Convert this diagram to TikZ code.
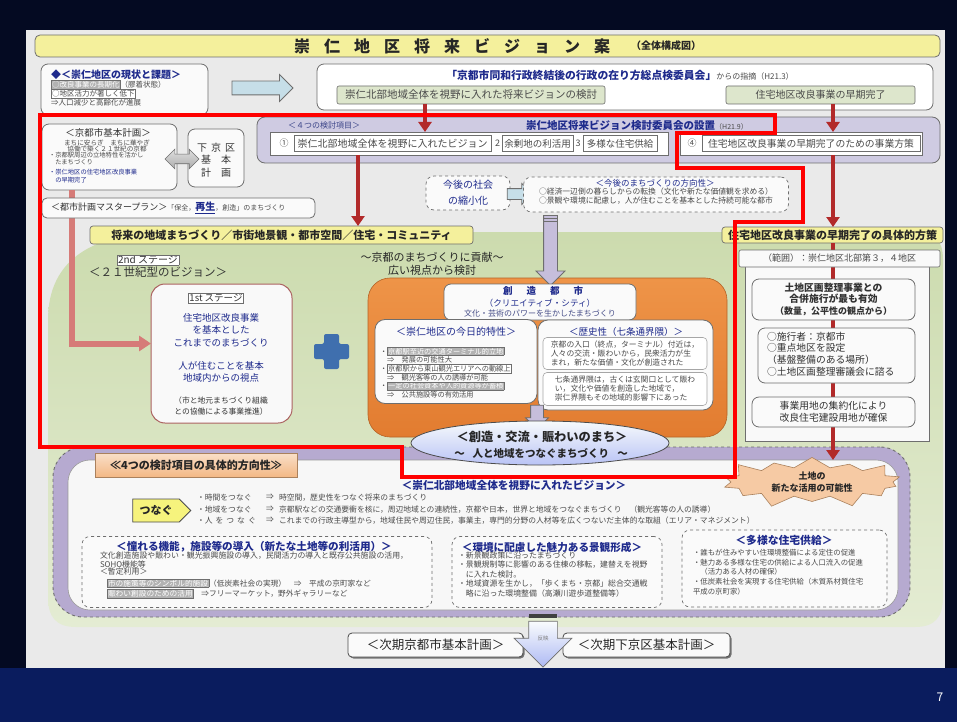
\documentclass[tikz,border=0pt]{standalone}
\usepackage{fontspec}
\setmainfont{Noto Sans CJK JP}
\usetikzlibrary{arrows.meta,shapes.arrows,shapes.symbols,shapes.geometric,shadows}
\newcommand\jf[2]{\fontsize{#1pt}{#2pt}\selectfont}
\definecolor{bgnavy}{HTML}{040A22}
\definecolor{botnavy}{HTML}{0A1C5E}
\definecolor{panel}{HTML}{EAEAEA}
\definecolor{ttlyel}{HTML}{F4F09C}
\definecolor{jblue}{HTML}{1E2A8C}
\definecolor{jgray}{HTML}{4A4A4A}
\definecolor{bordg}{HTML}{6E6E6E}
\definecolor{arred}{HTML}{B22A2A}
\definecolor{pinkar}{HTML}{D67B78}
\definecolor{lav}{HTML}{CFCBE2}
\definecolor{lavar}{HTML}{C6BEDB}
\definecolor{lavdk}{HTML}{B6AAD0}
\definecolor{greenA}{HTML}{CCDBAE}
\definecolor{greenB}{HTML}{E4ECD3}
\definecolor{oraA}{HTML}{EE9448}
\definecolor{oraB}{HTML}{E27C30}
\definecolor{paleg}{HTML}{DDE6CC}
\definecolor{lblue}{HTML}{C6DEE8}
\definecolor{peach}{HTML}{F3B885}
\definecolor{plusb}{HTML}{3F6FAE}
\newcommand\hlbx[1]{{\setlength\fboxsep{0.6pt}\fcolorbox{bordg}{gray!60}{\color{white}#1}}}
\newcommand\frbx[1]{{\setlength\fboxsep{0.6pt}\fcolorbox{bordg}{white}{#1}}}
\tikzset{
  rbox/.style={draw=bordg, line width=0.8pt, rounded corners=7pt, fill=white!96!gray},
  sbox/.style={draw=bordg, line width=0.6pt, fill=white},
  dbox/.style={draw=bordg, line width=0.7pt, dashed, rounded corners=8pt, fill=white!96!gray},
  redarr/.style={draw=arred, line width=3.5pt, -{Triangle[width=13pt,length=10pt]}},
  hollowr/.style={single arrow, draw=bordg, fill=lblue, line width=0.8pt},
  hollowd/.style={single arrow, shape border rotate=270, draw=bordg, fill=lavar, line width=0.8pt},
  lbl/.style={draw=bordg, fill=ttlyel, rounded corners=3pt, line width=0.7pt, font=\bfseries\jf{11}{11}, text=black!85},
}
\begin{document}
\begin{tikzpicture}[x=1pt,y=-1pt, every node/.style={inner sep=0pt, outer sep=0pt}]
\useasboundingbox (0,0) rectangle (957,722);
\fill[bgnavy] (0,0) rectangle (957,722);
\fill[botnavy] (0,668) rectangle (957,722);
\fill[panel] (26,30) rectangle (945,668);

% title
\node[draw=bordg, fill=ttlyel, rounded corners=5pt, line width=0.8pt, minimum width=905pt, minimum height=22pt] (title) at (487.5,46) {};
\node[font=\bfseries\jf{16}{16}, text=black!85] (titlet) at (452,46) {崇\hspace{14pt}仁\hspace{14pt}地\hspace{14pt}区\hspace{14pt}将\hspace{14pt}来\hspace{14pt}ビ\hspace{14pt}ジ\hspace{14pt}ョ\hspace{14pt}ン\hspace{14pt}案};
\node[font=\bfseries\jf{10}{10}, text=black!85] (titlesub) at (666,46) {（全体構成図）};

% current state
\node[rbox, minimum width=167pt, minimum height=51pt] (genjo) at (124.5,89.5) {};
\node[anchor=west, font=\bfseries\jf{10}{10}, text=jblue] (genjoT) at (51,75) {◆＜崇仁地区の現状と課題＞};
\node[anchor=north west, align=left, font=\jf{7.5}{9}, text=jgray] (genjoB) at (51,80.5) {\hlbx{○改良事業の長期化}（膠着状態）\\\frbx{○地区活力が著しく低下}\\⇒人口減少と高齢化が進展};
\node[hollowr, inner sep=6.5pt, minimum height=61pt, minimum width=26pt, single arrow head extend=6.5pt] (arrR1) at (259,88) {};

% proposal
\node[rbox, fill=white, minimum width=616pt, minimum height=46pt] (teigen) at (625,87) {};
\node[font=\jf{10.8}{10.8}] (teigenT) at (620,75) {{\bfseries\color{jblue}「京都市同和行政終結後の行政の在り方総点検委員会」}{\color{jgray}\jf{8}{8}からの指摘（H21.3）}};
\node[sbox, fill=paleg, rounded corners=2pt, minimum width=268pt, minimum height=18pt, font=\jf{10.5}{10.5}, text=jgray] (g1) at (471,95) {崇仁北部地域全体を視野に入れた将来ビジョンの検討};
\node[sbox, fill=paleg, rounded corners=2pt, minimum width=189pt, minimum height=18pt, font=\jf{10}{10}, text=jgray] (g2) at (820.5,95) {住宅地区改良事業の早期完了};

% committee band
\node[draw=bordg, fill=lav, rounded corners=8pt, line width=0.8pt, minimum width=683pt, minimum height=46pt] (band) at (598.5,140) {};
\node[font=\jf{8}{8}, text=jblue!70!gray] (bandL) at (324,125.5) {＜４つの検討項目＞};
\node[font=\jf{10.5}{10.5}] (bandT) at (637,125.5) {{\bfseries\color{jblue}崇仁地区将来ビジョン検討委員会の設置}{\color{jgray}\jf{7}{7}（H21.9）}};
\node[sbox, minimum width=398pt, minimum height=23pt] (i1) at (469,143.5) {};
\node[font=\jf{9}{9}, text=jgray] (i1n1) at (284,143.5) {①};
\node[sbox, font=\jf{10}{10}, text=jgray, minimum width=197pt, minimum height=16pt] (i1a) at (392.5,143.5) {崇仁北部地域全体を視野に入れたビジョン};
\node[font=\jf{9}{9}, text=jgray] (i1n2) at (497.5,143.5) {2};
\node[sbox, font=\jf{9.5}{9.5}, text=jgray, minimum width=71pt, minimum height=16pt] (i1b) at (537.5,143.5) {余剰地の利活用};
\node[font=\jf{9}{9}, text=jgray] (i1n3) at (578,143.5) {3};
\node[sbox, font=\jf{9.5}{9.5}, text=jgray, minimum width=74pt, minimum height=16pt] (i1c) at (620,143.5) {多様な住宅供給};
\node[sbox, minimum width=242pt, minimum height=23pt] (i4) at (801,143.5) {};
\node[font=\jf{9}{9}, text=jgray] (i4n) at (692,143.5) {④};
\node[sbox, font=\jf{9.8}{9.8}, text=jgray, minimum width=218pt, minimum height=16pt] (i4a) at (811,143.5) {住宅地区改良事業の早期完了のための事業方策};

% kyoto basic plan
\node[rbox, minimum width=135pt, minimum height=66pt] (kihon) at (109.5,157) {};
\node[font=\jf{9.5}{9.5}, text=black!80] (kihonT) at (108,133) {＜京都市基本計画＞};
\node[anchor=north, align=center, font=\jf{6.6}{6.6}, text=jgray] (kihonA) at (107,139.5) {まちに安らぎ　まちに華やぎ\\協働で築く２１世紀の京都};
\node[anchor=north west, align=left, font=\jf{6.3}{6.6}, text=jgray] (kihonB) at (49,152.5) {・京都駅周辺の立地特性を活かし\\　たまちづくり};
\node[anchor=north west, align=left, font=\jf{6.3}{7.2}, text=jblue] (kihonC) at (49,169.5) {・崇仁地区の住宅地区改良事業\\　の早期完了};
\node[rbox, minimum width=56pt, minimum height=58pt] (shimo) at (216,158) {};
\node[font=\jf{10}{12.5}, align=center, text=black!80] (shimoT) at (216,160) {下\hspace{4pt}京\hspace{4pt}区\\基\hspace{10pt}本\\計\hspace{10pt}画};
\node[double arrow, draw=bordg, top color=gray!25, bottom color=gray!65, line width=0.7pt, inner sep=4.5pt, minimum height=34pt, minimum width=19pt, double arrow head extend=5pt] (darr) at (182,159) {};

% green area
\shade[top color=greenA, bottom color=greenB] (48,320) .. controls (48,258) and (95,232) .. (170,232) -- (915,232) .. controls (935,232) and (943,240) .. (943,260) -- (943,597) .. controls (943,617) and (935,627) .. (915,627) -- (76,627) .. controls (56,627) and (48,617) .. (48,597) -- cycle;

% purple area
\node[fill=lavdk, draw=bordg, dashed, line width=0.9pt, rounded corners=30pt, minimum width=857pt, minimum height=170pt] (purp) at (481.5,532) {};
\node[fill=white!94!gray, draw=bordg!70, line width=0.6pt, rounded corners=22pt, minimum width=830pt, minimum height=150pt] (purpin) at (483,535) {};

% labels
\node[lbl, minimum width=383pt, minimum height=18pt] (lab1) at (281.5,235) {将来の地域まちづくり／市街地景観・都市空間／住宅・コミュニティ};
\node[lbl, minimum width=221pt, minimum height=16pt] (lab2) at (832.5,235) {住宅地区改良事業の早期完了の具体的方策};

% future society
\node[dbox, minimum width=84pt, minimum height=34pt, font=\jf{10}{16}, text=jblue, align=center] (shakai) at (468,193) {今後の社会\\の縮小化};
\node[hollowr, inner sep=5pt, minimum height=25pt, minimum width=20pt, single arrow head extend=5pt] (arrR2) at (517,194) {};
\node[dbox, minimum width=265pt, minimum height=35pt] (hoko) at (656,194.5) {};
\node[font=\jf{8.5}{8.5}, text=jblue] (hokoT) at (655,183) {＜今後のまちづくりの方向性＞};
\node[anchor=north west, align=left, font=\jf{7.8}{9}, text=jgray] (hokoB) at (539,188) {○経済一辺倒の暮らしからの転換（文化や新たな価値観を求める）\\○景観や環境に配慮し，人が住むことを基本とした持続可能な都市};

% stages
\node[font=\jf{10}{10}, text=black!80] (st2) at (148,260) {\frbx{2nd ステージ}};
\node[font=\jf{11.5}{11.5}, text=black!80] (st2b) at (158,272) {＜２１世紀型のビジョン＞};
\node[draw=pinkar!80!black, fill=white!95!gray, rounded corners=14pt, line width=1pt, minimum width=141pt, minimum height=139pt] (stage1) at (221.5,353.5) {};
\node[font=\jf{9.5}{9.5}, text=black!80] (st1T) at (216,298) {\frbx{1st ステージ}};
\node[anchor=north, align=center, font=\jf{9.5}{12.5}, text=jblue] (st1A) at (221,313) {住宅地区改良事業\\を基本とした\\これまでのまちづくり};
\node[anchor=north, align=center, font=\jf{9.5}{12}, text=jblue] (st1B) at (221,361) {人が住むことを基本\\地域内からの視点};
\node[anchor=north, align=center, font=\jf{7.8}{11}, text=black!80] (st1C) at (221,396.5) {（市と地元まちづくり組織\\との協働による事業推進）};
\coordinate (xP) at (72,0);
\draw[pinkar, line width=6pt, -{Triangle[width=15pt,length=12pt]}] (kihon.south -| xP) |- ([yshift=10pt]stage1.west);
\node[rbox, rounded corners=5pt, minimum width=273pt, minimum height=20pt] (mplan) at (178.5,208) {};
\node[anchor=west, font=\jf{9}{9}, text=black!80] (mplanT) at (51,208) {＜都市計画マスタープラン＞{\jf{7}{7}\color{jgray}「保全，}{\jf{10}{10}\bfseries\color{jblue}\underline{再生}}{\jf{7}{7}\color{jgray}，創造」のまちづくり}};
\fill[plusb, rounded corners=2pt] (324,334) -- (339,334) -- (339,344) -- (349,344) -- (349,359) -- (339,359) -- (339,369) -- (324,369) -- (324,359) -- (314,359) -- (314,344) -- (324,344) -- cycle;
\node[font=\jf{11}{12.5}, align=center, text=black!85] (kouken) at (432,264) {～京都のまちづくりに貢献～\\広い視点から検討};

% orange region
\node[top color=oraA, bottom color=oraB, draw=oraB!80!black, line width=0.6pt, rounded corners=22pt, minimum width=359pt, minimum height=159pt] (orange) at (547.5,357.5) {};
\node[hollowd, inner sep=6.5pt, minimum height=70pt, minimum width=28pt, single arrow head extend=7.5pt] (arrD1) at (550.5,247) {};
\foreach \yy in {215,218,221} \draw[bordg, line width=0.6pt] (544,\yy) -- (557,\yy);
\node[rbox, minimum width=192pt, minimum height=36pt] (ccity) at (540,302) {};
\node[font=\bfseries\jf{9.5}{9.5}, text=jblue] (ccT) at (543,291) {創\hspace{14pt}造\hspace{14pt}都\hspace{14pt}市};
\node[font=\jf{8.6}{8.6}, text=jblue] (ccT2) at (540,303) {（クリエイティブ・シティ）};
\node[font=\jf{8}{8}, text=jblue!60!gray] (ccT3) at (540,313.5) {文化・芸術のパワーを生かしたまちづくり};
\node[rbox, rounded corners=10pt, minimum width=162pt, minimum height=84pt] (tokusei) at (456,361.5) {};
\node[font=\jf{10}{10}, text=jblue] (tokT) at (456,332) {＜崇仁地区の今日的特性＞};
\node[anchor=north west, align=left, font=\jf{7.2}{8.7}, text=jgray] (tokB) at (380,347) {・\hlbx{京都駅至近の交通ターミナル的立地}\\　⇒　発展の可能性大\\・\frbx{京都駅から東山観光エリアへの動線上}\\　⇒　観光客等の人の誘導が可能\\・\hlbx{一定の社会資本や人的資源等が蓄積}\\　⇒　公共施設等の有効活用};
\node[rbox, rounded corners=10pt, minimum width=175pt, minimum height=90pt] (rekishi) at (625.5,365) {};
\node[font=\jf{9.5}{9.5}, text=jblue] (rekT) at (626,332) {＜歴史性（七条通界隈）＞};
\node[sbox, rounded corners=4pt, draw=gray!70, minimum width=164pt, minimum height=32pt, align=left, font=\jf{7.8}{9}, text=jgray] (rek1) at (625,353.5) {京都の入口（終点，ターミナル）付近は，\\人々の交流・賑わいから，民衆活力が生\\まれ，新たな価値・文化が創造された};
\node[sbox, rounded corners=4pt, draw=gray!70, minimum width=164pt, minimum height=33pt, align=left, font=\jf{7.8}{9}, text=jgray] (rek2) at (625,389) {七条通界隈は，古くは玄関口として賑わ\\い，文化や価値を創造した地域で，\\崇仁界隈もその地域的影響下にあった};
\node[hollowd, inner sep=6pt, minimum height=24pt, minimum width=22pt, single arrow head extend=5pt] (arrD2) at (537,414) {};
\node[ellipse, draw=black!70, line width=0.8pt, top color=white!85!lblue, bottom color=lblue!70!blue!60!white, minimum width=258pt, minimum height=44pt] (ellip) at (540,443) {};
\node[font=\bfseries\jf{12.2}{12.2}, text=black!85] (elT) at (542,437) {＜創造・交流・賑わいのまち＞};
\node[font=\bfseries\jf{10.5}{10.5}, text=black!85] (elT2) at (541,453) {～\hspace{8pt}人と地域をつなぐまちづくり\hspace{8pt}～};

% right column
\node[draw=bordg, fill=white!95!gray, line width=0.8pt, minimum width=184pt, minimum height=191pt] (col) at (837.5,345.5) {};
\node[starburst, starburst points=14, starburst point height=14pt, fill=peach!75!white, draw=peach!70!black, line width=0.6pt, minimum width=190pt, minimum height=52pt, align=center, font=\bfseries\jf{9}{12}, text=black!85] (burst) at (812,482) {土地の\\新たな活用の可能性};
\coordinate (xC) at (833,0);
\coordinate (burstTop) at (833,460);
\draw[redarr] (lab2.south -| xC) -- (burstTop);
\node[sbox, rounded corners=2pt, fill=white!95!gray, minimum width=201pt, minimum height=17pt, font=\jf{9}{9}, text=jgray] (hani) at (839.5,258.5) {（範囲）：崇仁地区北部第３，４地区};
\node[rbox, minimum width=163pt, minimum height=41pt, align=center, font=\bfseries\jf{9.8}{11.6}, text=black!80] (cs1) at (833.5,299.5) {土地区画整理事業との\\合併施行が最も有効\\{\jf{9}{11.6}（数量，公平性の観点から）}};
\node[rbox, minimum width=157pt, minimum height=55pt] (cs2) at (836.5,355.5) {};
\node[anchor=north west, align=left, font=\jf{9.8}{11.6}, text=black!80] (cs2t) at (767,332) {○施行者：京都市\\○重点地区を設定\\（基盤整備のある場所）\\○土地区画整理審議会に諮る};
\node[rbox, minimum width=163pt, minimum height=30pt, align=center, font=\jf{9.8}{12}, text=black!80] (cs3) at (833.5,412) {事業用地の集約化により\\改良住宅建設用地が確保};

% red arrows
\coordinate (xA) at (425,0);
\coordinate (xB) at (358,0);
\draw[redarr] (g1.south -| xA) -- (i1.north -| xA);
\draw[redarr] (g2.south -| xC) -- (i4.north -| xC);
\draw[redarr] (i1.south -| xB) -- (lab1.north -| xB);
\draw[redarr] (i4.south -| xC) -- (lab2.north -| xC);

% bottom content
\node[top color=peach!45!white, bottom color=peach, draw=peach!70!black, line width=0.6pt, minimum width=202pt, minimum height=24pt, font=\bfseries\jf{11}{11}, text=black!85] (tab) at (196,465) {≪4つの検討項目の具体的方向性≫};
\node[font=\bfseries\jf{10.7}{10.7}, text=jblue] (visT) at (514,485) {＜崇仁北部地域全体を視野に入れたビジョン＞};
\node[signal, signal from=nowhere, signal to=east, draw=black!70, fill=ttlyel!80!yellow, line width=0.8pt, minimum width=58pt, minimum height=23pt, font=\bfseries\jf{11}{11}, text=black!85] (tsunagu) at (156,510.5) {つなぐ};
\node[anchor=north west, align=left, font=\jf{7.8}{11.5}, text=jgray] (tsA) at (197,494) {・時間をつなぐ\\・地域をつなぐ\\・人\hspace{3pt}を\hspace{3pt}つ\hspace{3pt}な\hspace{3pt}ぐ};
\node[anchor=north west, align=left, font=\jf{7.8}{11.5}, text=jgray] (tsB) at (266,494) {⇒\\⇒\\⇒};
\node[anchor=north west, align=left, font=\jf{7.8}{11.5}, text=jgray] (tsC) at (279,494) {時空間，歴史性をつなぐ将来のまちづくり\\京都駅などの交通要衝を核に，周辺地域との連続性，京都や日本，世界と地域をつなぐまちづくり　（観光客等の人の誘導）\\これまでの行政主導型から，地域住民や周辺住民，事業主，専門的分野の人材等を広くつないだ主体的な取組（エリア・マネジメント）};

\node[dbox, minimum width=350pt, minimum height=71pt] (bx1) at (257,572) {};
\node[font=\bfseries\jf{10.6}{10.6}, text=jblue] (bx1T) at (254,547) {＜憧れる機能，施設等の導入（新たな土地等の利活用）＞};
\node[anchor=north west, align=left, font=\jf{7.9}{7.4}, text=jgray] (bx1B) at (100,552) {文化創造施設や賑わい・観光振興施設の導入，民間活力の導入と既存公共施設の活用，\\SOHO機能等\\＜暫定利用＞};
\node[anchor=north west, align=left, font=\jf{7.7}{10.5}, text=jgray] (bx1C) at (107,578.5) {\hlbx{市の施策等のシンボル的施設}（低炭素社会の実現）　⇒　平成の京町家など\\\hlbx{賑わい創設のための活用}　⇒フリーマーケット，野外ギャラリーなど};

\node[dbox, minimum width=210pt, minimum height=71pt] (bx2) at (557,572) {};
\node[font=\bfseries\jf{10.6}{10.6}, text=jblue] (bx2T) at (552,547) {＜環境に配慮した魅力ある景観形成＞};
\node[anchor=north west, align=left, font=\jf{7.9}{9.6}, text=jgray] (bx2B) at (458,551.5) {・新景観政策に沿ったまちづくり\\・景観規制等に影響のある住棟の移転，建替えを視野\\　に入れた検討。\\・地域資源を生かし，「歩くまち・京都」総合交通戦\\　略に沿った環境整備（高瀬川遊歩道整備等）};

\node[dbox, minimum width=205pt, minimum height=77pt] (bx3) at (784.5,568.5) {};
\node[font=\bfseries\jf{10.8}{10.8}, text=jblue] (bx3T) at (784,540) {＜多様な住宅供給＞};
\node[anchor=north west, align=left, font=\jf{7.4}{9.8}, text=jgray] (bx3B) at (693,549) {・誰もが住みやすい住環境整備による定住の促進\\・魅力ある多様な住宅の供給による人口流入の促進\\　（活力ある人材の確保）\\・低炭素社会を実現する住宅供給（木質系材質住宅\\平成の京町家）};

% next plans
\node[draw=black!70, fill=white!96!gray, rounded corners=4pt, line width=0.8pt, minimum width=175pt, minimum height=24pt, font=\jf{12.5}{12.5}, text=black!85, drop shadow={shadow xshift=1.5pt, shadow yshift=-1.5pt, fill=black!55, opacity=1}] (next1) at (435.5,645) {＜次期京都市基本計画＞};
\node[draw=black!70, fill=white!96!gray, rounded corners=4pt, line width=0.8pt, minimum width=167pt, minimum height=24pt, font=\jf{12.5}{12.5}, text=black!85, drop shadow={shadow xshift=1.5pt, shadow yshift=-1.5pt, fill=black!55, opacity=1}] (next2) at (646.5,645) {＜次期下京区基本計画＞};
\node[single arrow, shape border rotate=270, draw=bordg, line width=0.7pt, top color=white!90!lblue, bottom color=lblue!70!blue!70!white, inner sep=14pt, minimum height=46pt, minimum width=57pt, single arrow head extend=14.5pt] (arrD3) at (543,637) {};
\fill[black!75] (529,614) rectangle (557,618);
\node[font=\jf{5.5}{5.5}, text=gray] (hanei) at (543,638) {反映};

\node[text=white, font=\jf{12}{12}] (pnum) at (940,697) {7};

% red outline
\draw[red, line width=4.5pt, line join=miter] (40,115) -- (775,115) -- (775,133) -- (677,133) -- (677,168) -- (803,168) -- (803,222) -- (735,222) -- (735,477) -- (402,477) -- (402,447) -- (40,447) -- cycle;
\end{tikzpicture}
\end{document}
